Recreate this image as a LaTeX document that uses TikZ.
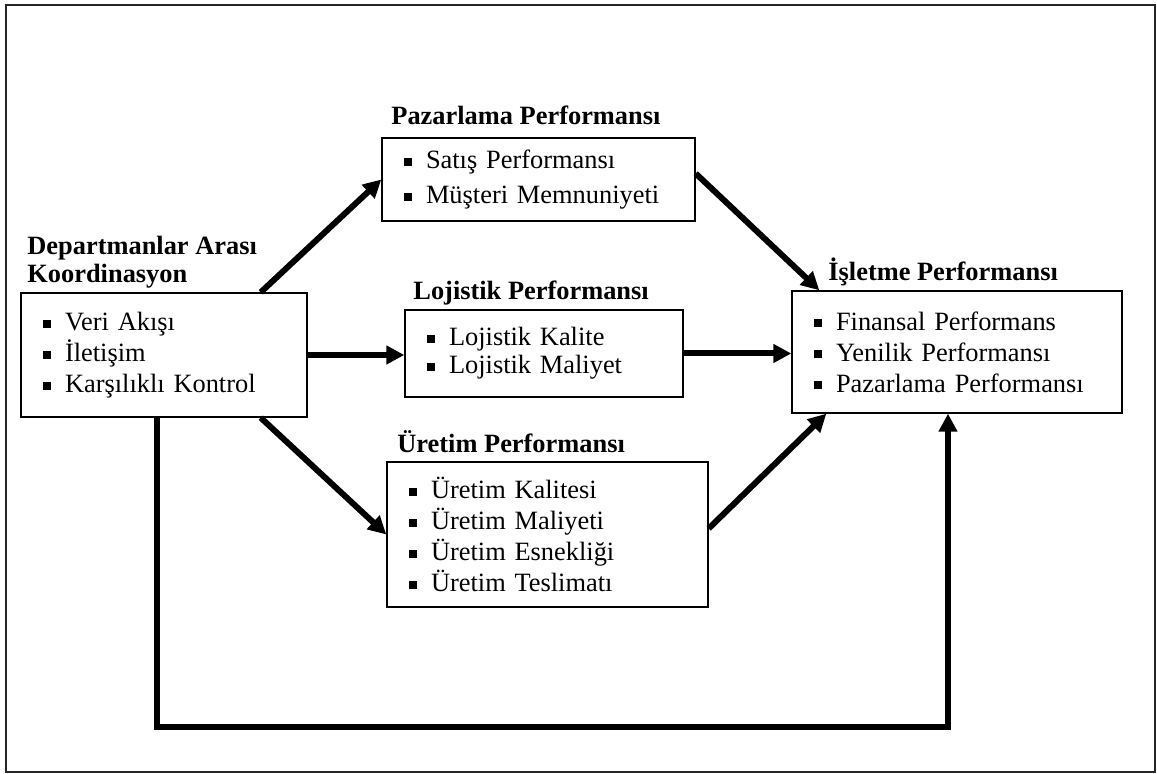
\documentclass[tikz,border=0pt]{standalone}
\usepackage{fontspec}
\setmainfont{Liberation Serif}
\usetikzlibrary{arrows.meta}
\newcommand{\bul}{\rule[1.4pt]{4pt}{4pt}\hspace{7pt}}

\begin{document}
\begin{tikzpicture}[
      x=0.5pt, y=-0.5pt,
      perfbox/.style={draw=black, line width=0.7pt, align=left, inner xsep=11pt, inner ysep=0pt,
                      font=\fontsize{13.2}{15.5}\selectfont},
      perftitle/.style={font=\fontsize{13.2}{14}\selectfont\bfseries, inner sep=0pt, anchor=base west},
      flow/.style={line width=3pt, -{Triangle[length=9pt,width=9pt]}},
    ]
    \useasboundingbox (0,0) rectangle (1157,774);
    \draw[line width=1pt, draw=black!85] (6,5) rectangle (1155,772);

    %-----------------------------
    % 1) Boxes
    %-----------------------------
    \node[perfbox, text width=121pt, minimum height=62pt] (koord) at (164,355)
      {\bul Veri Akışı\\ \bul İletişim\\ \bul Karşılıklı Kontrol};
    \node[perfbox, text width=134.5pt, minimum height=41.5pt,
          font=\fontsize{13.2}{17.5}\selectfont] (pazar) at (538.5,179.5)
      {\bul Satış Performansı\\ \bul Müşteri Memnuniyeti};
    \node[perfbox, text width=117pt, minimum height=43.5pt,
          font=\fontsize{13.2}{14}\selectfont] (lojis) at (544,353.5)
      {\bul Lojistik Kalite\\ \bul Lojistik Maliyet};
    \node[perfbox, text width=138.5pt, minimum height=72.5pt] (uretim) at (547.5,534.5)
      {\bul Üretim Kalitesi\\ \bul Üretim Maliyeti\\ \bul Üretim Esnekliği\\ \bul Üretim Teslimatı};
    \node[perfbox, text width=143pt, minimum height=61pt] (islet) at (957,352)
      {\bul Finansal Performans\\ \bul Yenilik Performansı\\ \bul Pazarlama Performansı};

    %-----------------------------
    % 2) Titles
    %-----------------------------
    \node[perftitle] (koordtitle) at (27,255) {Departmanlar Arası};
    \node[perftitle] (koordtitleb) at (27,283) {Koordinasyon};
    \node[perftitle] (pazartitle) at (391,125) {Pazarlama Performansı};
    \node[perftitle] (lojistitle) at (413,300) {Lojistik Performansı};
    \node[perftitle] (uretimtitle) at (397,453) {Üretim Performansı};
    \node[perftitle] (islettitle) at (828,281) {İşletme Performansı};

    %-----------------------------
    % 3) Arrows
    %-----------------------------
    \draw[flow] ([xshift=-23.5pt]koord.north east) -- (pazar.west);
    \draw[flow] (koord.east) -- (koord.east -| lojis.west);
    \draw[flow] ([xshift=-23.5pt]koord.south east) -- (uretim.west);
    \draw[flow] ([yshift=3pt]pazar.east) -- ([xshift=14pt]islet.north west);
    \draw[flow] (lojis.east) -- (lojis.east -| islet.west);
    \draw[flow] ([yshift=3pt]uretim.east) -- ([xshift=17.5pt]islet.south west);
    % feedback
    \coordinate (fb) at (948,727);
    \draw[flow] ([xshift=68.5pt]koord.south west) |- (fb) -- (fb |- islet.south);

  \end{tikzpicture}
\end{document}
